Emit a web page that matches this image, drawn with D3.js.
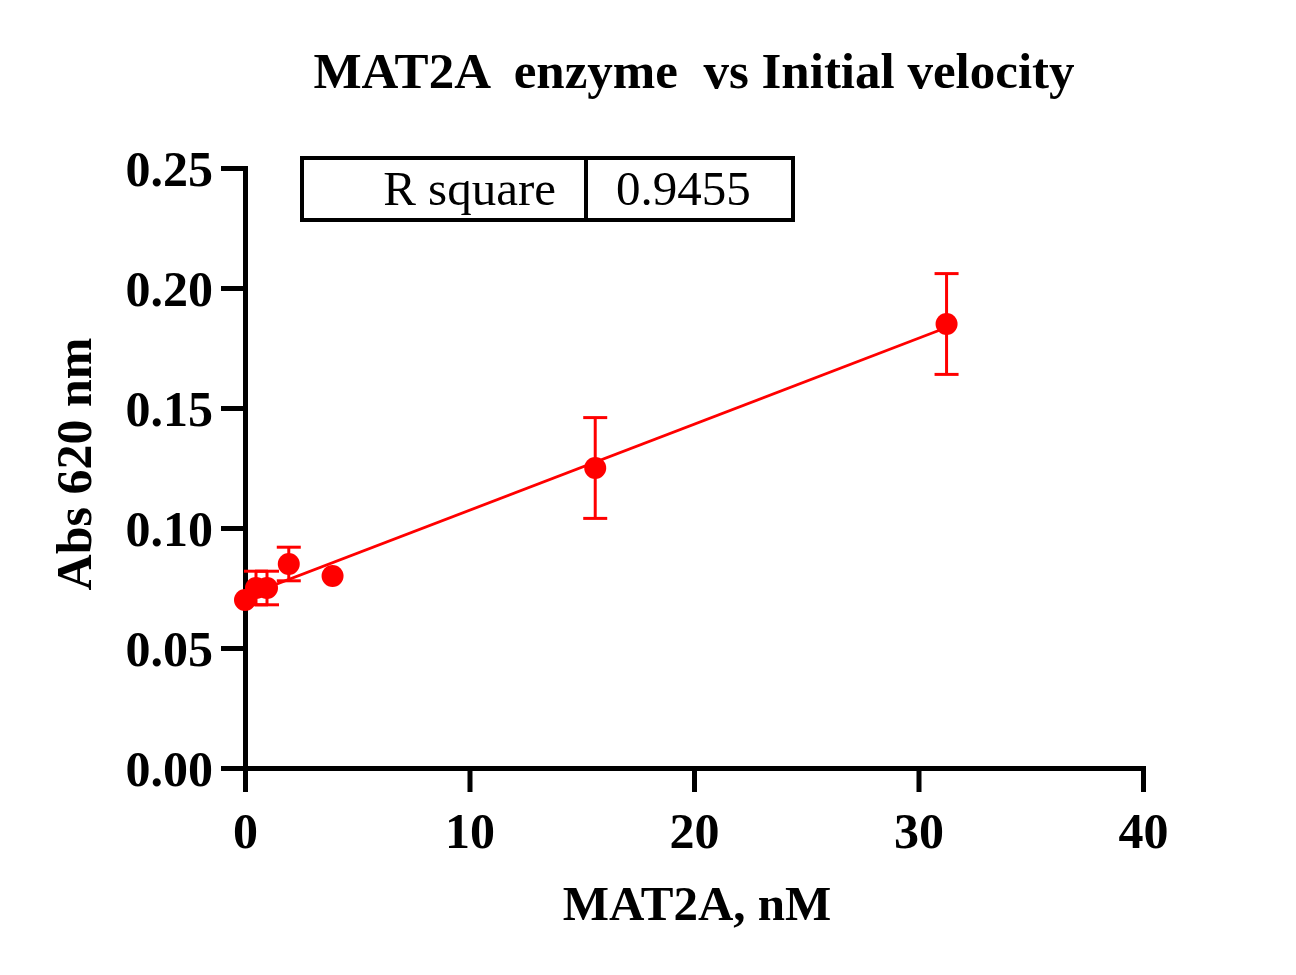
<!DOCTYPE html>
<html>
<head>
<meta charset="utf-8">
<script src="https://cdn.jsdelivr.net/npm/d3@7"></script>
<style>
  html, body { margin: 0; padding: 0; background: #fff; }
  svg { display: block; }
  text { font-family: "Liberation Serif", "Times New Roman", serif; }
</style>
</head>
<body>
<svg id="chart" width="1296" height="975"></svg>
<script>
// ---- data ----
const concentrations = [0, 0.49, 0.98, 1.95, 3.9, 15.6, 31.25];     // MAT2A, nM
const absorbance     = [0.070, 0.075, 0.075, 0.085, 0.080, 0.125, 0.185];
const errors         = [0, 0.007, 0.007, 0.007, 0, 0.021, 0.021];
const xTicks = [0, 10, 20, 30, 40];
const yTicks = [0.00, 0.05, 0.10, 0.15, 0.20, 0.25];
const titleText = "MAT2A  enzyme  vs Initial velocity";
const xLabel = "MAT2A, nM";
const yLabel = "Abs 620 nm";
const statLabels = ["R square"];
const statValues = ["0.9455"];

const svg = d3.select("#chart");
const x = d3.scaleLinear().domain([0, 40]).range([245, 1143]);
const y = d3.scaleLinear().domain([0, 0.25]).range([768, 168]);
const red = "#ff0000";

// title
svg.append("text")
  .attr("x", 694).attr("y", 88)
  .attr("text-anchor", "middle")
  .attr("font-size", 51).attr("font-weight", "bold")
  .style("white-space", "pre")
  .text(titleText);

// axes
const xAxis = d3.axisBottom(x).tickValues(xTicks).tickFormat(d3.format("d"))
  .tickSizeInner(24).tickSizeOuter(0).tickPadding(22);
const yAxis = d3.axisLeft(y).tickValues(yTicks).tickFormat(d3.format(".2f"))
  .tickSizeInner(24).tickSizeOuter(0).tickPadding(8);

const gx = svg.append("g").attr("transform", `translate(0,${y(0)})`).call(xAxis);
const gy = svg.append("g").attr("transform", `translate(${x(0)},0)`).call(yAxis);

[gx, gy].forEach(g => {
  g.selectAll(".domain").attr("stroke", "#000").attr("stroke-width", 5).attr("stroke-linecap", "square");
  g.selectAll(".tick line").attr("stroke", "#000").attr("stroke-width", 5);
  g.selectAll(".tick text")
    .attr("fill", "#000")
    .attr("font-family", "'Liberation Serif', 'Times New Roman', serif")
    .attr("font-size", 50).attr("font-weight", "bold");
});
gy.selectAll(".tick text").attr("dy", "0.34em");
gx.selectAll(".tick text").attr("dy", "0.68em");

// axis labels
svg.append("text")
  .attr("x", 697).attr("y", 920)
  .attr("text-anchor", "middle")
  .attr("font-size", 49).attr("font-weight", "bold")
  .text(xLabel);
svg.append("text")
  .attr("transform", `translate(91,464) rotate(-90)`)
  .attr("text-anchor", "middle")
  .attr("font-size", 50).attr("font-weight", "bold")
  .text(yLabel);

// linear regression from data
const n = concentrations.length;
const mx = d3.mean(concentrations), my = d3.mean(absorbance);
let sxy = 0, sxx = 0;
for (let i = 0; i < n; i++) {
  sxy += (concentrations[i] - mx) * (absorbance[i] - my);
  sxx += (concentrations[i] - mx) ** 2;
}
const slope = sxy / sxx, intercept = my - slope * mx;
const xr = d3.extent(concentrations);
svg.append("line")
  .attr("x1", x(xr[0])).attr("y1", y(intercept + slope * xr[0]))
  .attr("x2", x(xr[1])).attr("y2", y(intercept + slope * xr[1]))
  .attr("stroke", red).attr("stroke-width", 2.8);

// error bars
const data = concentrations.map((c, i) => ({ c, v: absorbance[i], e: errors[i] }));
const eb = svg.append("g").attr("stroke", red).attr("stroke-width", 3);
data.filter(d => d.e > 0).forEach(d => {
  eb.append("line").attr("x1", x(d.c)).attr("x2", x(d.c))
    .attr("y1", y(d.v + d.e)).attr("y2", y(d.v - d.e));
  [d.v + d.e, d.v - d.e].forEach(v => {
    eb.append("line").attr("x1", x(d.c) - 12).attr("x2", x(d.c) + 12)
      .attr("y1", y(v)).attr("y2", y(v));
  });
});

// points
svg.append("g").selectAll("circle").data(data).join("circle")
  .attr("cx", d => x(d.c)).attr("cy", d => y(d.v))
  .attr("r", 11).attr("fill", red);

// R square table
const box = svg.append("g");
box.append("rect").attr("x", 302).attr("y", 158).attr("width", 491).attr("height", 62)
  .attr("fill", "#fff").attr("stroke", "#000").attr("stroke-width", 4);
box.append("line").attr("x1", 586).attr("x2", 586).attr("y1", 158).attr("y2", 220)
  .attr("stroke", "#000").attr("stroke-width", 4);
box.append("text").attr("x", 556).attr("y", 205).attr("text-anchor", "end")
  .attr("font-size", 49).text(statLabels[0]);
box.append("text").attr("x", 616).attr("y", 205).attr("text-anchor", "start")
  .attr("font-size", 49).text(statValues[0]);
</script>
</body>
</html>
